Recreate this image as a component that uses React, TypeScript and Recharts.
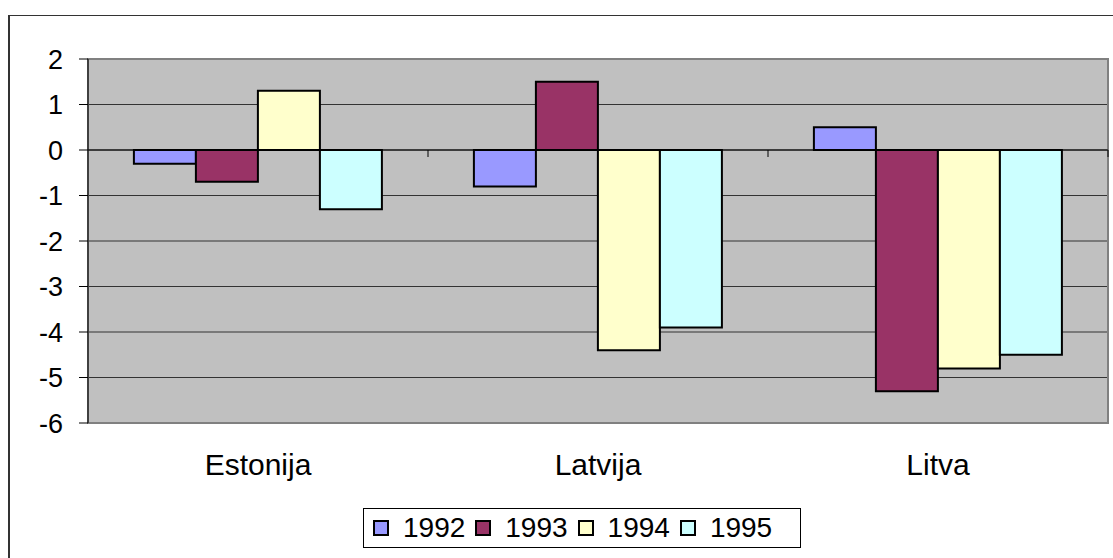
import React from 'react';
import {
  BarChart,
  Bar,
  XAxis,
  YAxis,
  CartesianGrid,
  Legend,
  ReferenceLine,
  ReferenceArea,
} from 'recharts';

const categories = ['Estonija', 'Latvija', 'Litva'];
const years = ['1992', '1993', '1994', '1995'];
const values1992 = [-0.3, -0.8, 0.5];
const values1993 = [-0.7, 1.5, -5.3];
const values1994 = [1.3, -4.4, -4.8];
const values1995 = [-1.3, -3.9, -4.5];
const yTicks = [-6, -5, -4, -3, -2, -1, 0, 1, 2];

const colors: Record<string, string> = {
  '1992': '#9999FF',
  '1993': '#993366',
  '1994': '#FFFFCC',
  '1995': '#CCFFFF',
};

const data = categories.map((name, i) => ({
  name,
  '1992': values1992[i],
  '1993': values1993[i],
  '1994': values1994[i],
  '1995': values1995[i],
}));

const FONT = 'Arial, "Liberation Sans", sans-serif';

// zero line with small category separator ticks, like Excel's crossing axis
const ZeroAxis = (props: any) => {
  const { x1, y1, x2, y2 } = props;
  const n = categories.length;
  const step = (x2 - x1) / n;
  const ticks = [];
  for (let k = 1; k <= n; k++) {
    const x = x1 + k * step;
    ticks.push(<line key={k} x1={x} y1={y1} x2={x} y2={y1 + 7} stroke="#000" strokeWidth={1} />);
  }
  return (
    <g>
      <line x1={x1} y1={y1} x2={x2} y2={y2} stroke="#000" strokeWidth={1} />
      {ticks}
    </g>
  );
};

const LegendBox = () => (
  <div
    style={{
      width: 427,
      height: 38,
      border: '1px solid #000',
      background: '#fff',
      display: 'flex',
      alignItems: 'center',
      paddingLeft: 9,
      boxSizing: 'content-box',
      fontFamily: FONT,
      fontSize: 28,
      color: '#000',
    }}
  >
    {years.map((y) => (
      <div key={y} style={{ display: 'flex', alignItems: 'center', marginRight: 10 }}>
        <span
          style={{
            display: 'inline-block',
            width: 12,
            height: 12,
            border: '2px solid #000',
            background: colors[y],
            marginRight: 14,
          }}
        />
        <span>{y}</span>
      </div>
    ))}
  </div>
);

export default function App() {
  return (
    <div
      style={{
        position: 'fixed',
        left: 8,
        top: 15,
        width: 1110,
        height: 560,
        borderTop: '1px solid #333',
        borderLeft: '2px solid #333',
        background: '#fff',
      }}
    >
      <BarChart
        width={1102}
        height={542}
        data={data}
        margin={{ top: 43, right: 4, left: 0, bottom: 75 }}
        barCategoryGap="13.5%"
        barGap={0}
      >
        <CartesianGrid vertical={false} fill="#C0C0C0" stroke="#333" fillOpacity={1} />
        <ReferenceArea y1={-6} y2={2} fill="none" stroke="#808080" strokeWidth={2} ifOverflow="visible" />
        <XAxis
          dataKey="name"
          axisLine={false}
          tickLine={false}
          tickSize={0}
          tickMargin={31}
          height={60}
          tick={{ fontSize: 30, fill: '#000', fontFamily: FONT }}
        />
        <YAxis
          domain={[-6, 2]}
          ticks={yTicks}
          interval={0}
          width={78}
          axisLine={{ stroke: '#000', strokeWidth: 1 }}
          tickLine={{ stroke: '#000' }}
          tickSize={9}
          tickMargin={16}
          tick={{ fontSize: 27, fill: '#000', fontFamily: FONT }}
        />
        {years.map((y) => (
          <Bar
            key={y}
            dataKey={y}
            fill={colors[y]}
            stroke="#000"
            strokeWidth={2}
            isAnimationActive={false}
          />
        ))}
        <ReferenceLine y={0} shape={<ZeroAxis />} />
        <Legend
          verticalAlign="middle"
          align="center"
          layout="horizontal"
          content={<LegendBox />}
          wrapperStyle={{ top: 492, left: 353, width: 'auto', height: 'auto' }}
        />
      </BarChart>
    </div>
  );
}
